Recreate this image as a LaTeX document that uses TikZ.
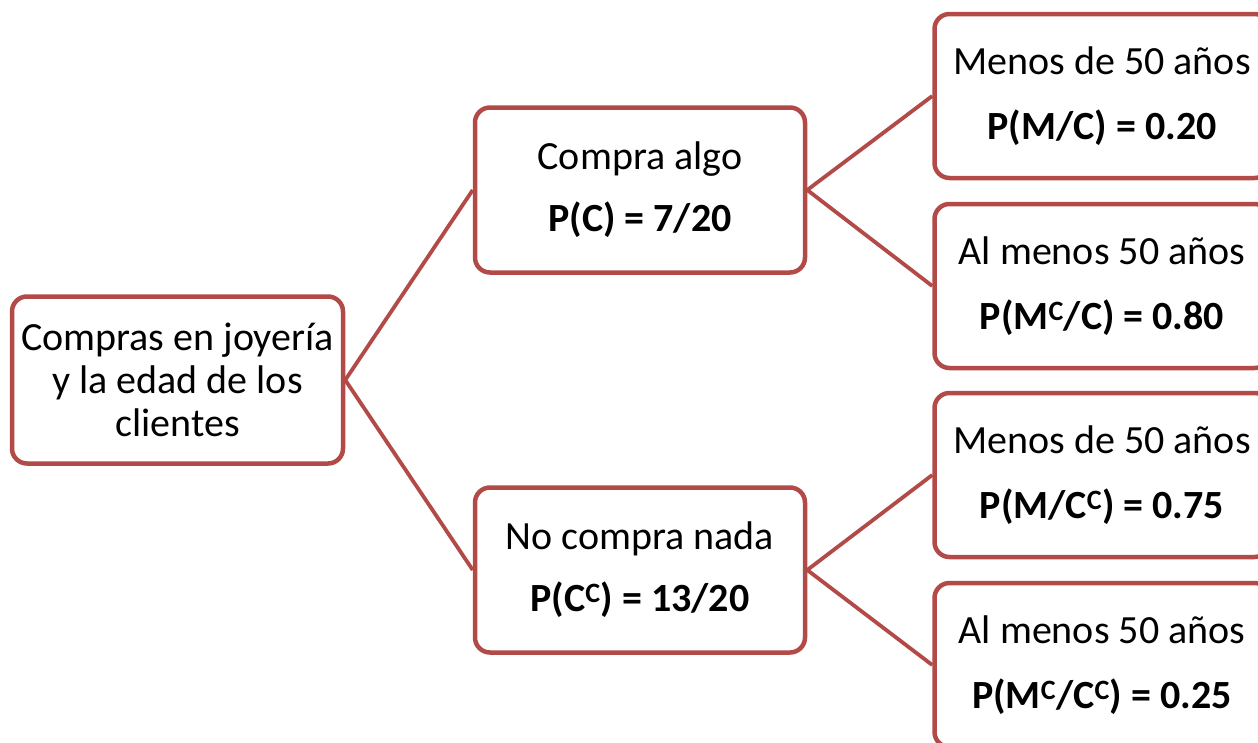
\documentclass[tikz,border=0pt]{standalone}
\usepackage{fontspec}
\setmainfont{Carlito}
\definecolor{boxred}{RGB}{178,74,72}
\begin{document}
\begin{tikzpicture}[x=1pt,y=-1pt,
  box/.style={draw=boxred, line width=4.5pt, rounded corners=15pt, fill=white,
    align=center, inner sep=0pt, font=\fontsize{40}{43}\selectfont},
  rootbox/.style={box, minimum width=331pt, minimum height=167pt},
  midbox/.style={box, minimum width=330pt, minimum height=165pt},
  leafbox/.style={box, minimum width=335pt, minimum height=164pt},
  conn/.style={draw=boxred, line width=3.8pt}]
\clip (0,0) rectangle (1258,742);
\node[rootbox] (root) at (177.5,380) {Compras en joyería\\y la edad de los\\clientes};
\node[midbox] (c) at (640,190) {Compra algo\\[19pt]\textbf{P(C) = 7/20}};
\node[midbox] (nc) at (640,570) {No compra nada\\[19pt]\textbf{P(C\textsuperscript{C}) = 13/20}};
\node[leafbox] (m1) at (1102,96) {Menos de 50 años\\[22pt]\textbf{P(M/C) = 0.20}};
\node[leafbox] (m2) at (1102,286) {Al menos 50 años\\[22pt]\textbf{P(M\textsuperscript{C}/C) = 0.80}};
\node[leafbox] (m3) at (1102,475) {Menos de 50 años\\[22pt]\textbf{P(M/C\textsuperscript{C}) = 0.75}};
\node[leafbox] (m4) at (1102,665) {Al menos 50 años\\[22pt]\textbf{P(M\textsuperscript{C}/C\textsuperscript{C}) = 0.25}};
\draw[conn] (root.east) -- (c.west);
\draw[conn] (root.east) -- (nc.west);
\draw[conn] (c.east) -- (m1.west);
\draw[conn] (c.east) -- (m2.west);
\draw[conn] (nc.east) -- (m3.west);
\draw[conn] (nc.east) -- (m4.west);
\end{tikzpicture}
\end{document}
